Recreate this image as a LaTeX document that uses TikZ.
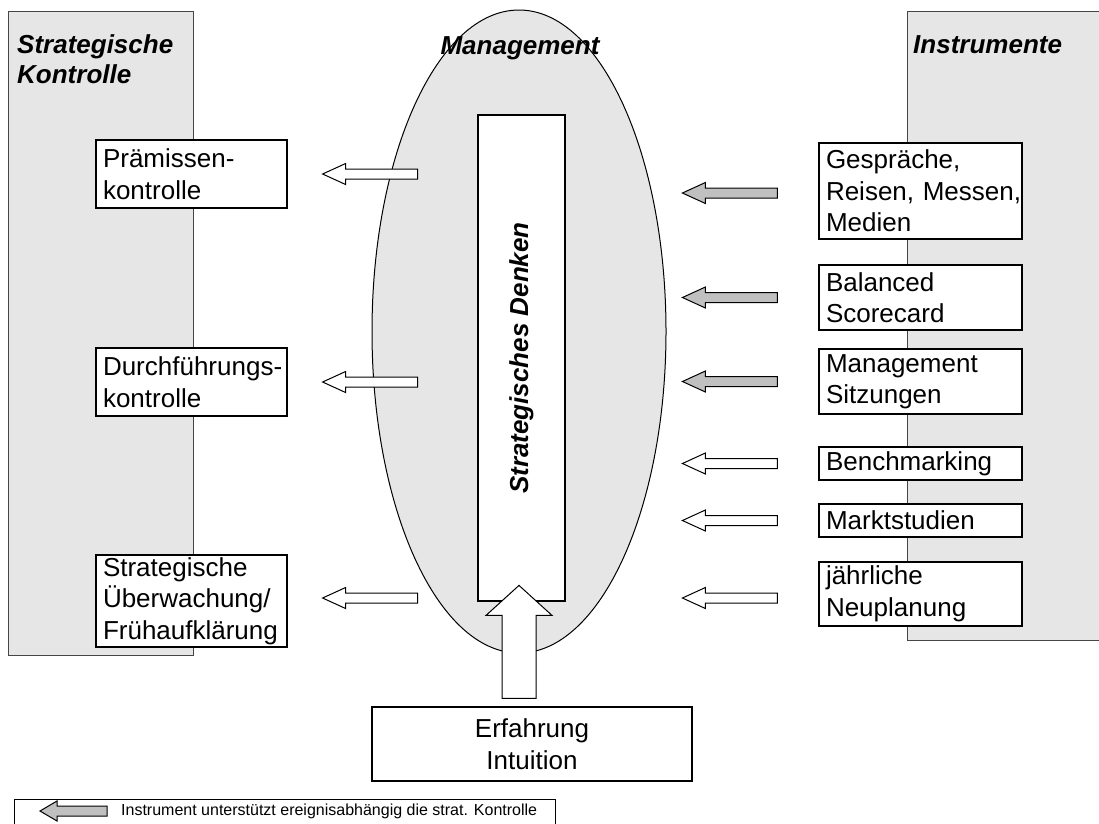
\documentclass[tikz,border=0pt]{standalone}
\usepackage{fontspec}
\setmainfont{Liberation Sans}
\usepackage{tikz}
\usetikzlibrary{shapes.geometric, positioning, calc}
\definecolor{panelgray}{RGB}{230,230,230}
\definecolor{arrowgray}{RGB}{192,192,192}
\definecolor{framegray}{RGB}{70,70,70}

\begin{document}
\begin{tikzpicture}[x=1pt, y=-1pt,
    every node/.style={font=\fontsize{26}{31.5}\selectfont},
    panel/.style={rectangle, draw=framegray, fill=panelgray, line width=1.4pt, anchor=north west, inner sep=0pt},
    headline/.style={font=\fontsize{26}{30}\selectfont\bfseries\itshape, align=left, inner sep=0pt},
    kbox/.style={rectangle, draw, fill=white, line width=1.2pt, align=left, text width=177pt, inner xsep=7pt, inner ysep=0pt, minimum width=191pt},
    ibox/.style={rectangle, draw, fill=white, line width=1.2pt, align=left, text width=189pt, inner xsep=7pt, inner ysep=0pt, minimum width=203pt},
    larrow/.pic={\draw[pic actions] (0,0) -- (23,-10.5) -- (23,-5) -- (95,-5) -- (95,5) -- (23,5) -- (23,10.5) -- cycle;},
    legarrow/.pic={\draw[pic actions] (0,0) -- (17,-10) -- (17,-5) -- (67,-5) -- (67,5) -- (17,5) -- (17,10) -- cycle;},
    uarrow/.pic={\draw[pic actions] (-17,0) -- (-17,-83) -- (-33,-83) -- (0,-113) -- (33,-83) -- (17,-83) -- (17,0) -- cycle;}
]
\useasboundingbox (0,0) rectangle (1099,823);

% side panels
\node[panel, minimum width=185pt, minimum height=644pt] (kontrolle) at (8,11) {};
\node[panel, minimum width=200pt, minimum height=629pt] (instr) at (907,11) {};
\node[headline, anchor=north west] (kontrtitle) at (17,34) {Strategische\\Kontrolle};
\node[headline, anchor=base west] (instrtitle) at (913,53) {Instrumente};

% management
\node[ellipse, draw, fill=panelgray, line width=1pt, minimum width=294pt, minimum height=643pt, inner sep=0pt] (mgmt) at (519,331.5) {};
\node[headline, anchor=base] (mgmttitle) at (520,54) {Management};
\node[rectangle, draw, fill=white, line width=1.2pt, rotate=90, minimum width=486pt, minimum height=87pt, font=\fontsize{26}{30}\selectfont\bfseries\itshape] (denken) at (521.5,358) {Strategisches Denken};

% kontrolle boxes
\node[kbox, minimum height=68pt] (prem) at (191.5,174) {Prämissen-\\kontrolle};
\node[kbox, minimum height=68pt] (durch) at (191.5,382) {\mbox{Durchführungs-}\\kontrolle};
\node[kbox, minimum height=92pt] (ueber) at (191.5,601) {Strategische\\Überwachung/\\\mbox{Frühaufklärung}};

% instrument boxes
\node[ibox, minimum height=96pt] (gespr) at (920.5,191) {Gespräche,\\\mbox{Reisen, Messen,}\\Medien};
\node[ibox, minimum height=65pt] (bsc) at (920.5,297.5) {Balanced\\Scorecard};
\node[ibox, minimum height=65pt] (sitz) at (920.5,381.5) {Management\\Sitzungen};
\node[ibox, minimum height=33pt] (bench) at (920.5,463.5) {Benchmarking};
\node[ibox, minimum height=33pt] (markt) at (920.5,520.5) {Marktstudien};
\node[ibox, minimum height=64pt] (neupl) at (920.5,594) {jährliche\\Neuplanung};

% erfahrung
\node[rectangle, draw, fill=white, line width=1.2pt, align=center, minimum width=320pt, minimum height=74pt] (erf) at (532,744) {Erfahrung\\Intuition};
\pic[draw, fill=white, line width=1pt] at ([xshift=-13pt, yshift=8pt]erf.north) {uarrow};

% arrows to the left
\pic[draw, fill=white, line width=1pt] at ([xshift=35pt]prem.east) {larrow};
\pic[draw, fill=white, line width=1pt] at ([xshift=35pt]durch.east) {larrow};
\pic[draw, fill=white, line width=1pt] at ([xshift=35pt, yshift=3pt]ueber.east) {larrow};

\pic[draw, fill=arrowgray, line width=1pt] at ([xshift=-136pt, yshift=-2pt]gespr.west) {larrow};
\pic[draw, fill=arrowgray, line width=1pt] at ([xshift=-136pt]bsc.west) {larrow};
\pic[draw, fill=arrowgray, line width=1pt] at ([xshift=-136pt]sitz.west) {larrow};
\pic[draw, fill=white, line width=1pt] at ([xshift=-136pt]bench.west) {larrow};
\pic[draw, fill=white, line width=1pt] at ([xshift=-136pt]markt.west) {larrow};
\pic[draw, fill=white, line width=1pt] at ([xshift=-136pt, yshift=-4pt]neupl.west) {larrow};

% legend
\node[rectangle, draw, line width=1pt, anchor=north west, minimum width=541pt, minimum height=30pt, inner sep=0pt] (legend) at (14,799) {};
\pic[draw, fill=arrowgray, line width=1pt] at ([xshift=26pt, yshift=-12pt]legend.north west) {legarrow};
\node[anchor=west, inner sep=0pt, font=\fontsize{16}{18}\selectfont] (legtext) at ([xshift=107pt, yshift=-12pt]legend.north west) {Instrument unterstützt ereignisabhängig die strat. Kontrolle};

\end{tikzpicture}
\end{document}
